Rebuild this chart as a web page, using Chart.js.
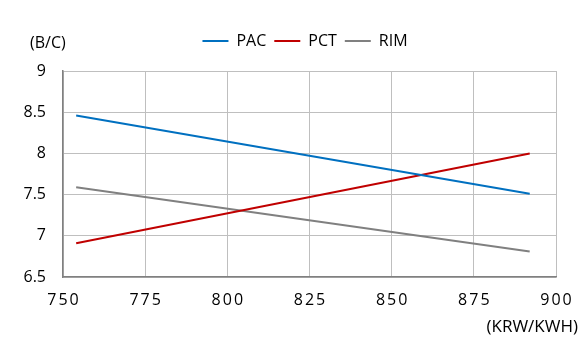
<!DOCTYPE html>
<html><head><meta charset="utf-8">
<script src="https://cdn.jsdelivr.net/npm/chart.js@4"></script>
<style>html,body{margin:0;padding:0;background:#fff}#wrap{width:585px;height:357px}</style>
</head><body><div id="wrap"><canvas id="c" width="585" height="357"></canvas></div>
<script>
const seriesNames = ["PAC", "PCT", "RIM"];
const xValues = [754, 892];
const pacValues = [8.46, 7.51];
const pctValues = [6.91, 8.0];
const rimValues = [7.59, 6.81];
const xTicks = [750, 775, 800, 825, 850, 875, 900];
const yTicks = [6.5, 7, 7.5, 8, 8.5, 9];
const yUnit = "(B/C)";
const xUnit = "(KRW/KWH)";

const colors = ["#0070C0", "#C00000", "#808080"];
const allValues = [pacValues, pctValues, rimValues];
const FONT = "'Open Sans', 'Liberation Sans', sans-serif";

const unitPlugin = {
  id: 'unitText',
  afterLayout(chart) {
    const lg = chart.legend;
    if (lg) { lg.left += 27; lg.right += 27; }
    const sx = chart.scales.x;
    if (sx && !sx._lsWrapped) {
      const orig = sx.drawLabels;
      sx.drawLabels = function(a) {
        const ctx = this.ctx;
        ctx.save();
        ctx.translate(1, 0);
        ctx.letterSpacing = '2px';
        orig.call(this, a);
        ctx.restore();
      };
      sx._lsWrapped = true;
    }
  },
  afterDraw(chart) {
    const ctx = chart.ctx;
    ctx.save();
    ctx.fillStyle = "#000";
    ctx.textBaseline = "middle";
    ctx.font = "16px " + FONT;
    ctx.textAlign = "left";
    ctx.fillText(yUnit, 30, 43);
    ctx.font = "17px " + FONT;
    ctx.textAlign = "right";
    ctx.fillText(xUnit, 578, 327);
    ctx.restore();
  }
};

const legendPad = {
  id: 'legendPad',
  beforeInit(chart) {
    const orig = chart.legend.fit;
    chart.legend.fit = function() { orig.call(this); this.height += 12; };
  }
};

new Chart(document.getElementById('c'), {
  type: 'line',
  data: {
    datasets: seriesNames.map((n, i) => ({
      label: n,
      data: xValues.map((x, j) => ({x: x, y: allValues[i][j]})),
      borderColor: colors[i],
      backgroundColor: colors[i],
      borderWidth: 2,
      pointRadius: 0,
      tension: 0
    }))
  },
  options: {
    responsive: false,
    animation: false,
    layout: {padding: {left: 0, right: 29, top: 25, bottom: 20}},
    plugins: {
      legend: {
        position: 'top',
        labels: {
          usePointStyle: true,
          pointStyle: 'line',
          pointStyleWidth: 26,
          boxHeight: 2,
          color: '#000',
          font: {family: FONT, size: 16},
          padding: 8
        }
      },
      tooltip: {enabled: false}
    },
    scales: {
      x: {
        type: 'linear',
        min: 750, max: 900,
        afterBuildTicks: s => { s.ticks = xTicks.map(v => ({value: v})); },
        afterFit: s => { s.height = 60; },
        grid: {color: '#BFBFBF', drawTicks: false},
        border: {color: '#808080', width: 1.5},
        ticks: {color: '#000', font: {family: FONT, size: 16}, padding: 14, maxRotation: 0,
                callback: v => String(v)}
      },
      y: {
        type: 'linear',
        min: 6.5, max: 9,
        afterBuildTicks: s => { s.ticks = yTicks.map(v => ({value: v})); },
        afterFit: s => { s.width = 63; },
        grid: {color: '#BFBFBF', drawTicks: false},
        border: {color: '#808080', width: 1.5},
        ticks: {color: '#000', font: {family: FONT, size: 16}, padding: 17,
                callback: v => String(v)}
      }
    }
  },
  plugins: [legendPad, unitPlugin]
});
</script>
</body></html>
